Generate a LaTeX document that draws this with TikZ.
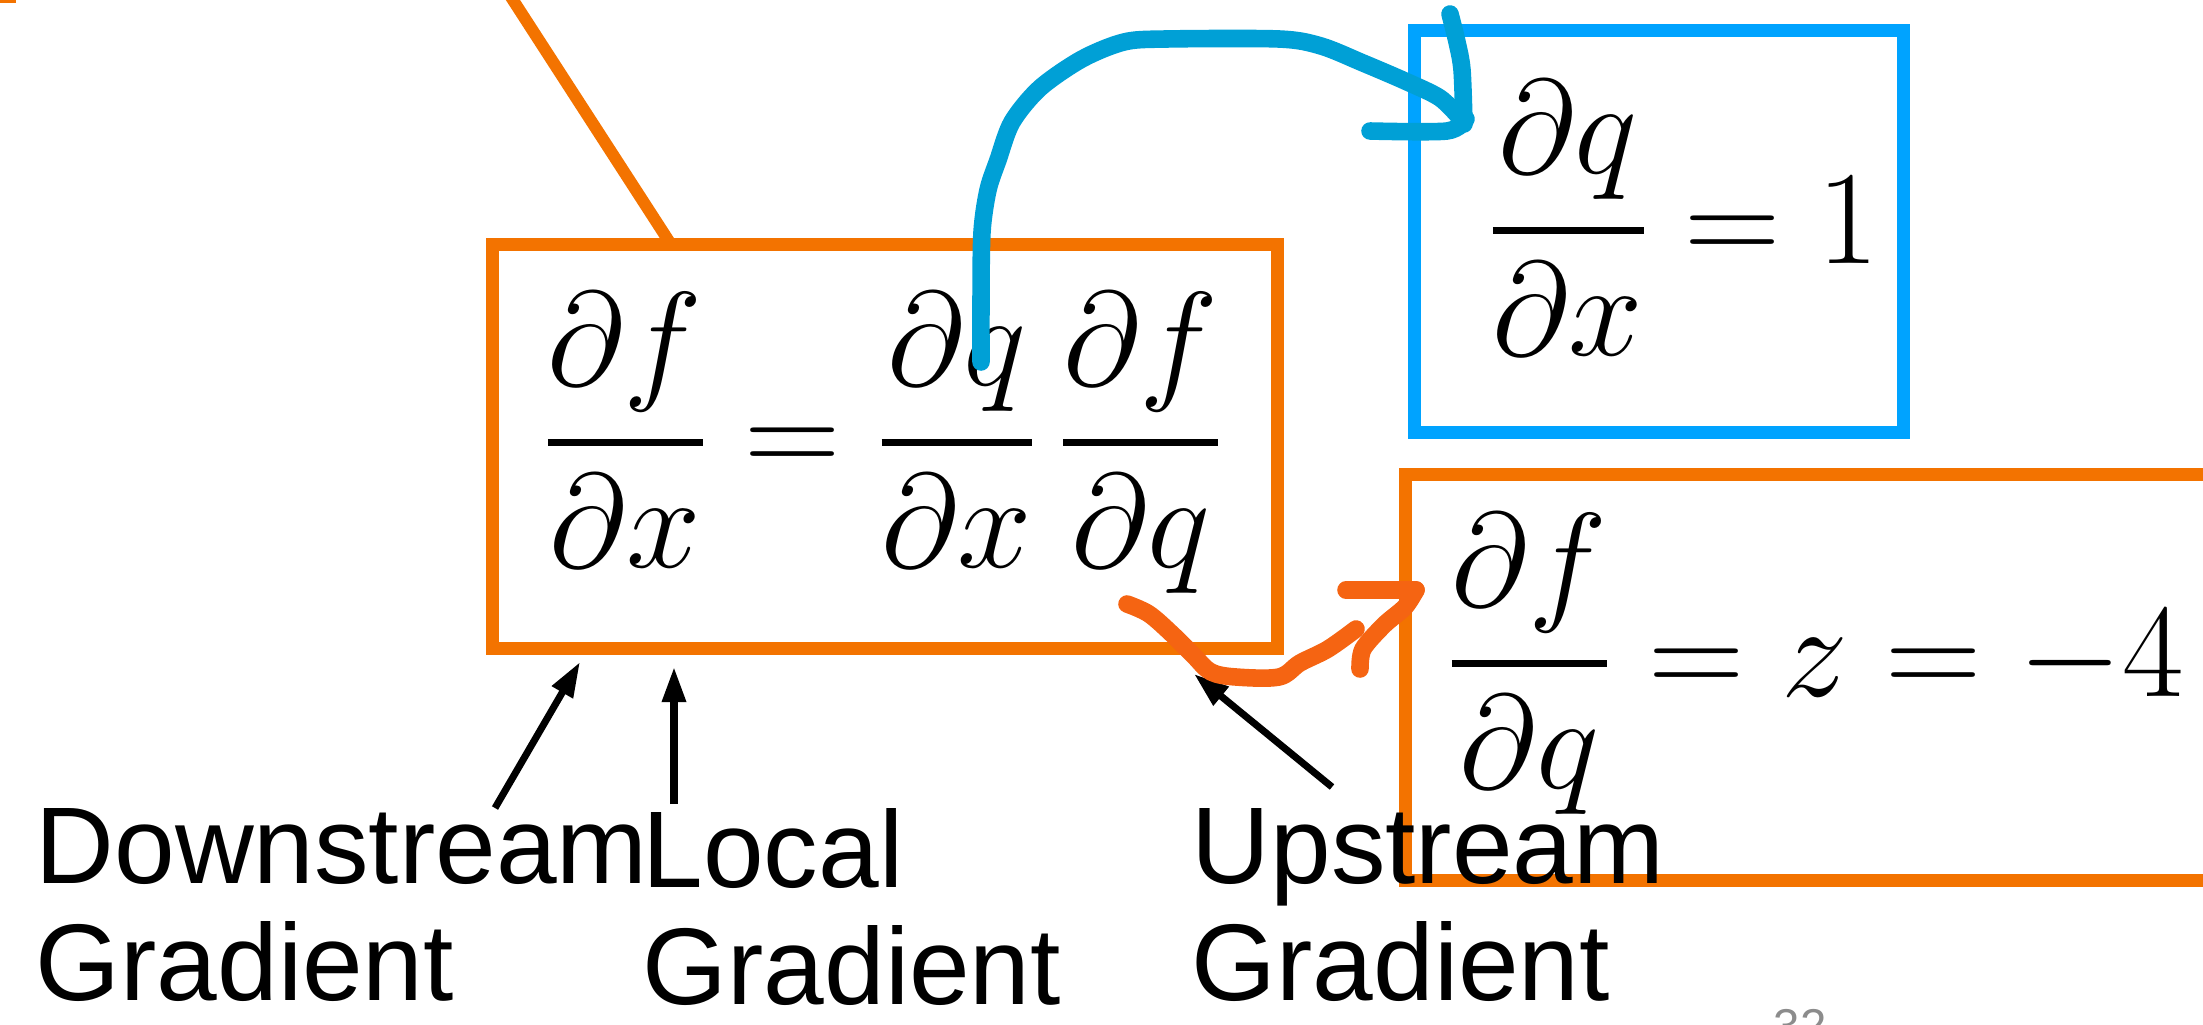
\RequirePackage{fix-cm}
\documentclass[tikz,border=0pt]{standalone}
\usepackage{exscale}
\usepackage{fontspec}
\newfontfamily\helv{Liberation Sans}
\usetikzlibrary{arrows.meta}
\definecolor{boxorange}{RGB}{243,115,0}
\definecolor{boxblue}{RGB}{0,163,255}
\definecolor{penblue}{RGB}{0,160,214}
\definecolor{penorange}{RGB}{245,100,18}
\newcommand{\pfr}[2]{{{#1}\above 1.9pt{#2}}}
\newcommand{\twolines}[2]{\vbox{\hbox{#1}\hbox{#2}}}
\begin{document}
\begin{tikzpicture}[x=0.01cm,y=-0.01cm,
  framebox/.style={draw=#1, line width=3.7pt, inner sep=0pt, fill=none},
  eqn/.style={inner sep=0pt, font=\fontsize{38}{45}\selectfont},
  lbl/.style={inner sep=0pt, anchor=north west, font=\helv\fontsize{31}{33.3}\selectfont},
  blackarrow/.style={line width=2pt, -{Triangle[length=10pt,width=6.5pt]}},
  pen/.style={line width=5pt, line cap=round, line join=round, draw=#1}]
\useasboundingbox (0,0) rectangle (2203,1024);
\clip (0,0) rectangle (2203,1024);

% tiny orange remnant at the top-left corner
\coordinate (cornerA) at (0,1);
\coordinate (cornerB) at (16,1);
\draw[boxorange, line width=1.2pt] (cornerA) -- (cornerB);

% boxes
\node[framebox=boxorange, minimum width=7.85cm, minimum height=4.04cm] (mainbox) at (885,446.5) {};
\node[framebox=boxblue, minimum width=4.89cm, minimum height=4.02cm] (bluebox) at (1659,231.5) {};
\node[framebox=boxorange, minimum width=8.15cm, minimum height=4.06cm] (rightbox) at (1813,677.5) {};

% orange diagonal line into the main box
\coordinate (linetop) at (500,-20);
\coordinate (linebot) at (672,246);
\draw[boxorange, line width=3.4pt] (linetop) -- (linebot);

% equations
\node[eqn] (eqmain) at (883,443) {$\displaystyle\pfr{\partial f}{\partial x} = \pfr{\partial q}{\partial x}\,\pfr{\partial f}{\partial q}$};
\node[eqn] (eqblue) at (1684,218) {$\displaystyle\pfr{\partial q}{\partial x} = 1$};
\node[eqn, anchor=west] (eqright) at (1447,664) {$\displaystyle\pfr{\partial f}{\partial q} = z = -4$};

% labels
\node[lbl] (down) at (35,808) {\twolines{Downstream}{Gradient}};
\node[lbl] (local) at (642,808) {\twolines{Local}{Gradient}};
\node[lbl] (up) at (1191,808) {\twolines{Upstream}{Gradient}};

% page number (cut off)
\node[inner sep=0pt, anchor=north west, text=black!45, font=\helv\fontsize{13.5}{15}\selectfont] (pagenum) at (1773,1009) {32};

% black arrows
\coordinate (dtail) at (495,808);
\coordinate (dtip) at (580,662);
\coordinate (ltail) at (674,804);
\coordinate (ltip) at (674,667);
\coordinate (utail) at (1332,787);
\coordinate (utip) at (1194,674);
\draw[blackarrow] (dtail) -- (dtip);
\draw[blackarrow] (ltail) -- (ltip);
\draw[blackarrow] (utail) -- (utip);

% hand-drawn blue arrow
\draw[pen=penblue] plot[smooth, tension=0.5] coordinates {(981,362) (981,300) (982,232) (988,190) (998,160) (1012,122) (1040,88) (1082,59) (1124,42) (1166,39) (1279,39) (1321,46) (1363,63) (1405,81) (1440,98) (1461,119)};
\draw[pen=penblue] plot[smooth, tension=0.5] coordinates {(1450,14) (1457,42) (1462,70) (1464,124)};
\draw[pen=penblue] plot[smooth, tension=0.5] coordinates {(1370,131) (1447,131) (1466,119)};

% hand-drawn orange arrow
\draw[pen=penorange] plot[smooth, tension=0.55] coordinates {(1127,604) (1149,614) (1173,635) (1194,656) (1211,672) (1236,677) (1279,677) (1300,663) (1328,649) (1356,629)};
\draw[pen=penorange] plot[smooth, tension=0.5] coordinates {(1360,669) (1363,649) (1384,625) (1405,607) (1416,590)};
\draw[pen=penorange] plot[smooth, tension=0.5] coordinates {(1346,590) (1416,590)};
\end{tikzpicture}
\end{document}
